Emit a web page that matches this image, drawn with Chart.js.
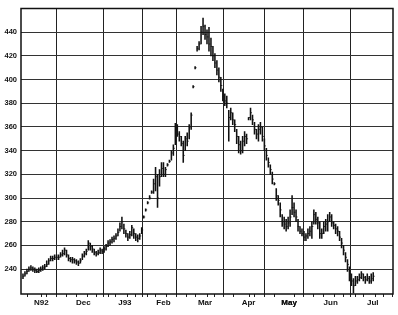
<!doctype html>
<html>
<head>
<meta charset="utf-8" />
<script src="https://cdn.jsdelivr.net/npm/chart.js@4"></script>
<style>
  html, body { margin: 0; background: #fff; }
  #wrap { width: 398px; height: 315px; }
</style>
</head>
<body>
<div id="wrap"><canvas id="c"></canvas></div>
<script>
  // daily sessions, Nov 1992 .. early Jul 1993 (index = trading day)
  const highs = [
    236,238,240,242,243,242,241,240,241,242, 243,244,247,249,251,251,252,252,252,254,
    256,258,256,252,250,250,249,248,247,249, 253,255,257,264,262,260,257,255,256,258,
    257,259,261,264,265,267,268,270,274,279, 284,278,273,270,272,277,274,270,269,270,
    275,285,291,297,302,306,316,326,320,324, 330,330,326,329,332,340,345,363,362,356,
    352,348,352,355,362,372,395,411,428,432, 445,452,446,442,444,435,428,422,416,410,
    402,392,388,386,374,376,372,366,358,352, 348,352,356,354,368,376,370,364,358,362,
    364,360,350,342,334,328,322,313,308,302, 296,286,284,282,284,290,302,296,290,282,
    276,274,272,270,274,276,280,290,288,284, 280,274,280,282,286,288,286,280,278,276,
    272,266,260,254,248,242,236,232,234,234, 236,238,236,234,236,234,236,237
  ];
  const lows = [
    232,234,236,238,239,238,237,237,237,238, 239,240,242,244,247,247,248,248,248,250,
    251,252,250,247,246,245,245,244,243,245, 248,250,252,256,256,254,252,251,252,253,
    253,254,256,259,260,262,263,265,268,272, 274,270,267,264,266,268,266,264,263,265,
    270,283,289,295,299,304,304,306,292,310, 318,318,318,327,330,332,336,345,352,348,
    344,330,340,344,350,358,393,409,424,425, 430,438,434,430,424,420,416,410,404,398,
    390,382,378,376,348,366,362,356,346,338, 337,338,344,346,366,366,362,354,350,348,
    354,348,340,332,326,320,312,311,298,294, 284,276,274,272,274,276,286,284,280,272,
    270,268,264,264,266,268,266,278,278,274, 266,266,270,272,272,280,276,274,270,268,
    264,258,252,246,238,230,226,220,226,228, 230,232,230,228,230,228,228,230
  ];
  const closes = [
    234,236,238,240,241,240,239,238,239,240, 241,242,244,247,249,249,250,250,250,252,
    253,256,252,249,248,248,247,246,245,247, 251,253,255,262,259,257,254,253,254,256,
    255,257,259,262,263,265,266,268,271,276, 280,274,270,267,269,275,270,267,266,268,
    273,284,290,296,300,305,312,318,300,318, 325,320,324,328,331,338,342,360,354,352,
    346,336,350,348,360,370,394,410,426,430, 440,445,438,436,430,428,420,414,408,402,
    395,386,382,380,368,372,366,362,352,345, 340,348,352,350,368,372,366,358,354,358,
    360,352,344,336,330,324,316,312,302,298, 290,280,278,276,279,284,292,288,284,276,
    272,270,267,268,270,272,276,286,282,279, 270,270,276,278,280,284,279,277,274,272,
    267,262,256,250,244,236,230,226,230,231, 233,236,233,231,232,230,232,234
  ];

  const monthLabels = ["N92", "Dec", "J93", "Feb", "Mar", "Apr", "May", "Jun", "Jul"];
  const monthStarts = [0, 20, 42, 62, 81, 104, 125, 145, 167];
  const lastDay = 187;
  const yTicks = [240, 260, 280, 300, 320, 340, 360, 380, 400, 420, 440];

  const boundaries = monthStarts.slice(1).map((d) => d - 0.5);
  const edges = [-1, ...boundaries, lastDay];
  const centers = monthLabels.map((_, i) => (edges[i] + edges[i + 1]) / 2);
  const weekly = [];
  for (let d = 4.5; d < lastDay; d += 5) {
    if (boundaries.every((b) => Math.abs(b - d) > 1.5)) weekly.push(d);
  }

  const ranges = highs.map((h, i) => ({ x: i, y: [lows[i], h] }));
  const closePts = closes.map((c, i) => ({ x: i + 0.3, y: c }));

  const frame = {
    id: "frame",
    afterDraw(chart) {
      const { ctx, chartArea: a } = chart;
      ctx.save();
      ctx.strokeStyle = "#111";
      ctx.lineWidth = 1.5;
      ctx.strokeRect(a.left, a.top, a.right - a.left, a.bottom - a.top);
      ctx.restore();
    },
  };

  new Chart(document.getElementById("c"), {
    type: "bar",
    data: {
      datasets: [
        {
          data: ranges,
          backgroundColor: "#111",
          barThickness: 0.9,
          minBarLength: 1.5,
        },
        {
          type: "line",
          data: closePts,
          showLine: false,
          pointStyle: "line",
          pointRadius: 0.9,
          pointBorderWidth: 0.8,
          borderColor: "#111",
          pointBorderColor: "#111",
        },
      ],
    },
    options: {
      responsive: true,
      maintainAspectRatio: false,
      animation: false,
      events: [],
      layout: { padding: { top: 8, right: 5, left: 0, bottom: 0 } },
      plugins: { legend: { display: false }, tooltip: { enabled: false } },
      scales: {
        x: {
          type: "linear",
          min: -1,
          max: lastDay,
          offset: false,
          afterBuildTicks(scale) {
            const all = [...boundaries, ...centers, ...weekly].sort((a, b) => a - b);
            scale.ticks = all.map((v) => ({ value: v }));
          },
          afterFit(scale) { scale.height = 21; },
          border: { display: false },
          grid: {
            color: (c) => (boundaries.includes(c.tick && c.tick.value) ? "#222" : "transparent"),
            tickColor: (c) => (centers.includes(c.tick && c.tick.value) ? "transparent" : "#222"),
            tickLength: 3,
            lineWidth: 1,
          },
          ticks: {
            autoSkip: false,
            maxRotation: 0,
            minRotation: 0,
            padding: 1,
            color: "#111",
            font: { family: "Liberation Sans", size: 8, weight: "bold" },
            callback: (v) => {
              const i = centers.indexOf(v);
              return i >= 0 ? monthLabels[i] : "";
            },
          },
        },
        y: {
          min: 219,
          max: 460,
          afterBuildTicks(scale) {
            scale.ticks = yTicks.map((v) => ({ value: v }));
          },
          afterFit(scale) { scale.width = 21; },
          border: { display: false },
          grid: { color: "#333", lineWidth: 1, drawTicks: false },
          ticks: {
            padding: 4,
            color: "#111",
            font: { family: "Liberation Sans", size: 7.5, weight: "bold" },
          },
        },
      },
    },
    plugins: [frame],
  });
</script>
</body>
</html>
